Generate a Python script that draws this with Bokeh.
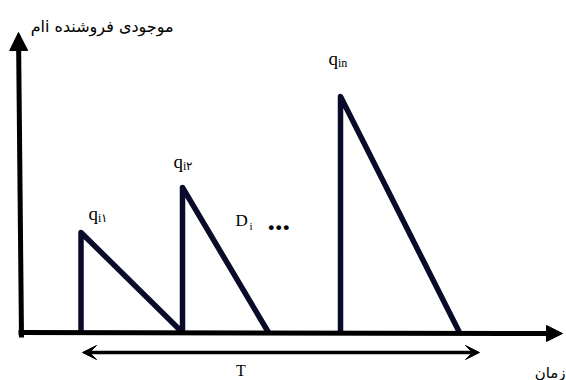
from bokeh.plotting import figure
from bokeh.models import Range1d, Arrow, NormalHead, VeeHead, ColumnDataSource
from bokeh.core.properties import value
from bokeh.embed import file_html
from bokeh.resources import INLINE

# ---- data (time / inventory units) ----
cycle_start = [58.5, 160.0, 318.0]
cycle_peak = [100.0, 145.0, 236.0]
cycle_end = [160.0, 246.0, 437.0]
q_subscripts = ["i۱", "i۲", "in"]
y_title = "\u202Bموجودی فروشنده iام\u202C"
x_title = "زمان"
period_label = "T"
demand_label = "D"
demand_sub = "i"
period_start = 60.0
period_end = 457.0
x_axis_end = 540.0
y_axis_end = 300.0

# label offsets (pixels) relative to each peak
q_dx = [7.5, -9.0, -12.0]
q_dy = [-19.0, -26.0, -38.0]

p = figure(width=566, height=380, output_backend="svg", toolbar_location=None,
           x_range=Range1d(-22, 544), y_range=Range1d(-48, 332),
           min_border=0, outline_line_color=None)
p.axis.visible = False
p.grid.visible = False
p.background_fill_color = "white"

# axes with arrow heads
p.add_layout(Arrow(x_start=-1, y_start=-5, x_end=-4, y_end=y_axis_end,
                   line_width=5, line_color="black",
                   end=NormalHead(size=18, fill_color="black", line_color="black", line_width=1)))
p.add_layout(Arrow(x_start=-4, y_start=0, x_end=x_axis_end, y_end=-1,
                   line_width=5, line_color="black",
                   end=NormalHead(size=16, fill_color="black", line_color="black", line_width=1)))

# period arrow T
p.add_layout(Arrow(x_start=period_start, y_start=-20, x_end=period_end, y_end=-20,
                   line_width=3.5, line_color="black",
                   start=VeeHead(size=14, fill_color="black", line_color="black", line_width=1),
                   end=VeeHead(size=14, fill_color="black", line_color="black", line_width=1)))

# saw-tooth inventory cycles
xs = [[s, s, e] for s, e in zip(cycle_start, cycle_end)]
ys = [[0, pk, 0] for pk in cycle_peak]
p.multi_line(xs=xs, ys=ys, line_width=5.5, line_color="#0a0a2a", line_join="round")

# q labels
src = ColumnDataSource(dict(x=cycle_start, y=cycle_peak, dx=q_dx, dy=q_dy,
                            dx2=[d + 9.5 for d in q_dx], dy2=[d + 4.5 for d in q_dy],
                            q=["q"] * len(cycle_start), sub=q_subscripts))
p.text(x="x", y="y", text="q", x_offset="dx", y_offset="dy", source=src,
       text_font=value("Liberation Serif"), text_font_size="19px",
       text_baseline="alphabetic", text_align="left", text_color="black")
p.text(x="x", y="y", text="sub", x_offset="dx2", y_offset="dy2", source=src,
       text_font=value("Liberation Serif"), text_font_size="12px",
       text_baseline="alphabetic", text_align="left", text_color="black")

# D_i and dots
p.text(x=[213], y=[112], text=[demand_label], text_font=value("Liberation Serif"),
       text_font_size="17px", text_baseline="alphabetic", text_align="left")
p.text(x=[227], y=[107], text=[demand_sub], text_font=value("Liberation Serif"),
       text_font_size="11px", text_baseline="alphabetic", text_align="left")
p.text(x=[245], y=[112], text=["..."], text_font=value("Liberation Serif"),
       text_font_size="30px", text_font_style="bold", text_baseline="alphabetic", text_align="left")

# T label
p.text(x=[(period_start + period_end) / 2 - 40], y=[-38], text=[period_label],
       text_font=value("Liberation Serif"), text_font_size="16px",
       text_baseline="alphabetic", text_align="center")

# axis titles
p.text(x=[543], y=[-40], text=[x_title], text_font=value("DejaVu Sans"),
       text_font_size="15px", text_baseline="alphabetic", text_align="right")
p.text(x=[151], y=[306], text=[y_title], text_font=value("DejaVu Sans"),
       text_font_size="16px", text_baseline="alphabetic", text_align="right")

open("out.html", "w").write(file_html(p, INLINE))
